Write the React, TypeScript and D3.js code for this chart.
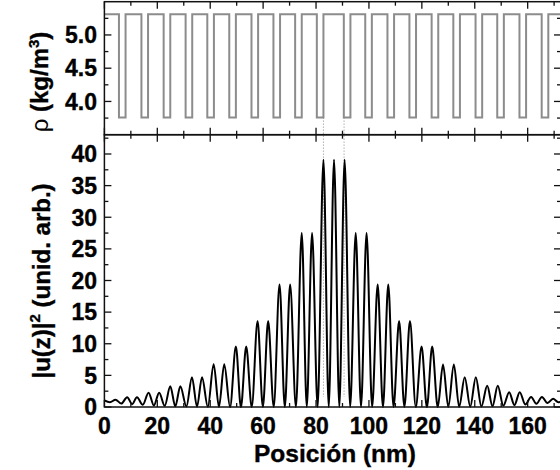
import React from 'react';
import * as d3 from 'd3';

// ---------- data ----------
const xMajorTicks = [0, 20, 40, 60, 80, 100, 120, 140, 160];
const xMinorTicks = [10, 30, 50, 70, 90, 110, 130, 150, 170];
const rhoMajorTicks = [4.0, 4.5, 5.0];
const rhoMinorTicks = [3.75, 4.25, 4.75, 5.25];
const uMajorTicks = [0, 5, 10, 15, 20, 25, 30, 35, 40];
const uMinorTicks = [2.5, 7.5, 12.5, 17.5, 22.5, 27.5, 32.5, 37.5, 42.5];

const rhoHigh = 5.31;
const rhoLow = 3.76;
// start positions (nm) of the low-density layers
const lowLayerStart = [5.5, 14.0, 22.4, 30.7, 38.9, 47.2, 55.6, 63.9, 72.1, 80.3,
  90.5, 98.6, 107.0, 115.3, 123.7, 131.9, 140.3, 148.5, 156.9, 165.3];
const lowLayerWidth = 2.5;
const cavityEdges = [82.8, 90.6];

// |u(z)|^2 maxima
const peakX = [0, 4.2, 8.6, 12.3, 16.7, 20.7, 24.9, 28.7, 33.1, 36.9, 41.3, 45.3, 49.7, 53.6,
  57.9, 61.9, 66.2, 70.2, 74.6, 78.5, 82.8, 86.8, 90.8, 95.0, 99.1, 103.3, 107.3, 111.4, 115.5,
  119.9, 123.9, 128.0, 132.1, 136.2, 140.4, 144.7, 148.7, 153.0, 157.0, 161.3, 165.4, 169.6, 172.6];
const peakY = [1.05, 1.15, 1.55, 1.55, 2.27, 2.27, 3.27, 3.27, 4.7, 4.7, 6.75, 6.75, 9.55, 9.55,
  13.6, 13.6, 19.35, 19.35, 27.5, 27.5, 39.1, 39.1, 39.1, 27.5, 27.5, 19.35, 19.35, 13.6, 13.6,
  9.55, 9.55, 6.7, 6.7, 4.7, 4.7, 3.35, 3.35, 2.35, 2.35, 1.6, 1.6, 1.3, 0.85];
// |u(z)|^2 minima
const minX = [2.1, 6.4, 10.5, 14.5, 18.7, 22.8, 26.8, 31.0, 35.0, 39.1, 43.3, 47.5, 51.6, 55.7,
  59.9, 64.0, 68.2, 72.4, 76.5, 80.6, 84.8, 88.8, 92.9, 97.0, 101.2, 105.3, 109.3, 113.4, 117.7,
  121.9, 126.0, 130.0, 134.1, 138.3, 142.5, 146.7, 150.8, 155.0, 159.1, 163.3, 167.5, 171.6];
const minY = [0.75, 0.55, 0.45, 0.35, 0.25, 0.18, 0.12, 0.08, 0.05, 0.03, 0.02, 0, 0, 0,
  0, 0, 0, 0, 0, 0, 0, 0, 0, 0, 0, 0, 0, 0, 0,
  0, 0, 0.02, 0.03, 0.05, 0.08, 0.12, 0.2, 0.3, 0.4, 0.5, 0.62, 0.75];

// ---------- layout ----------
const W = 560, H = 470;
const X0 = 104.4, X1 = 561;
const topY0 = 1.7, midY = 134.7, botY = 407;
const FONT = "'Liberation Sans', Arial, Helvetica, sans-serif";

export default function App() {
  const x = d3.scaleLinear().domain([0, 172.6]).range([X0, X1]);
  const yR = d3.scaleLinear().domain([3.5, 5.5]).range([midY, topY0]);
  const yU = d3.scaleLinear().domain([0, 43.05]).range([botY, midY]);

  // density step profile
  const rhoPts: [number, number][] = [[0, rhoHigh]];
  lowLayerStart.forEach((s) => {
    rhoPts.push([s, rhoHigh], [s, rhoLow], [s + lowLayerWidth, rhoLow], [s + lowLayerWidth, rhoHigh]);
  });
  rhoPts.push([172.6, rhoHigh]);
  const rhoLine = d3.line<[number, number]>().x((d) => x(d[0])).y((d) => yR(d[1]));

  const uPts: [number, number][] = [
    ...peakX.map((px, i) => [px, peakY[i]] as [number, number]),
    ...minX.map((mx, i) => [mx, minY[i]] as [number, number]),
  ].sort((a, b) => a[0] - b[0]);
  const uLine = d3.line<[number, number]>()
    .x((d) => x(d[0])).y((d) => yU(d[1])).curve(d3.curveMonotoneX);

  const axisColor = '#111';
  const tickW = 1.3;
  const maj = 7, min = 4;
  const tickFs = 23;
  const heavy = { stroke: '#000', strokeWidth: 0.35 };

  return (
    <svg width={W} height={H} style={{ position: 'absolute', left: 0, top: 0, background: '#fff' }}
      fontFamily={FONT}>
      <rect x={0} y={0} width={W} height={H} fill="#fff" />
      {/* dotted cavity lines */}
      {cavityEdges.map((c, i) => (
        <line key={'c' + i} x1={x(c)} x2={x(c)} y1={yR(rhoLow)} y2={yU(1.6)}
          stroke="#b0b0b0" strokeWidth={1} strokeDasharray="1.5,1.5" />
      ))}
      {/* density */}
      <path d={rhoLine(rhoPts) || ''} fill="none" stroke="#8c8c8c" strokeWidth={2} />
      {/* |u|^2 */}
      <path d={uLine(uPts) || ''} fill="none" stroke="#000" strokeWidth={2} />

      {/* frames */}
      <rect x={X0} y={topY0} width={X1 - X0} height={midY - topY0} fill="none" stroke={axisColor} strokeWidth={1.5} />
      <rect x={X0} y={midY} width={X1 - X0} height={botY - midY} fill="none" stroke={axisColor} strokeWidth={1.5} />

      {/* x ticks */}
      {xMajorTicks.concat(xMinorTicks).map((t, i) => {
        const L = xMajorTicks.includes(t) ? maj : min;
        const px = x(t);
        return (
          <g key={'xt' + i} stroke={axisColor} strokeWidth={tickW}>
            <line x1={px} x2={px} y1={topY0} y2={topY0 + L} />
            <line x1={px} x2={px} y1={midY - L} y2={midY + L} />
            <line x1={px} x2={px} y1={botY} y2={botY - L} />
          </g>
        );
      })}
      {/* rho ticks */}
      {rhoMajorTicks.concat(rhoMinorTicks).map((t, i) => {
        const L = rhoMajorTicks.includes(t) ? maj : min;
        const py = yR(t);
        return (
          <g key={'rt' + i} stroke={axisColor} strokeWidth={tickW}>
            <line x1={X0} x2={X0 + L} y1={py} y2={py} />
            <line x1={X1} x2={X1 - L} y1={py} y2={py} />
          </g>
        );
      })}
      {/* u ticks */}
      {uMajorTicks.concat(uMinorTicks).map((t, i) => {
        const L = uMajorTicks.includes(t) ? maj : min;
        const py = yU(t);
        return (
          <g key={'ut' + i} stroke={axisColor} strokeWidth={tickW}>
            <line x1={X0} x2={X0 + L} y1={py} y2={py} />
            <line x1={X1} x2={X1 - L} y1={py} y2={py} />
          </g>
        );
      })}

      {/* tick labels */}
      {rhoMajorTicks.map((t) => (
        <text key={'rl' + t} x={97} y={yR(t)} dy="0.36em" textAnchor="end" fontSize={tickFs}
          fontWeight="bold" fill="#000" {...heavy}>{t.toFixed(1)}</text>
      ))}
      {uMajorTicks.map((t) => (
        <text key={'ul' + t} x={97} y={yU(t)} dy="0.36em" textAnchor="end" fontSize={tickFs}
          fontWeight="bold" fill="#000" {...heavy}>{t}</text>
      ))}
      {xMajorTicks.map((t) => (
        <text key={'xl' + t} x={x(t)} y={434} textAnchor="middle" fontSize={tickFs}
          fontWeight="bold" fill="#000" {...heavy}>{t}</text>
      ))}

      {/* axis titles */}
      <text x={335} y={462} textAnchor="middle" fontSize={24.5} fontWeight="bold" fill="#000" {...heavy}>
        Posición (nm)
      </text>
      <text transform={`translate(48,82) rotate(-90)`} textAnchor="middle" fontSize={24} fontWeight="bold" fill="#000" {...heavy}>
        <tspan fontWeight="normal" strokeWidth={0}>ρ</tspan> (kg/m<tspan dy={-9} fontSize={15}>3</tspan><tspan dy={9}>)</tspan>
      </text>
      <text transform={`translate(50,281) rotate(-90)`} textAnchor="middle" fontSize={24} fontWeight="bold" fill="#000" {...heavy}>
        |u(z)|<tspan dy={-10} fontSize={15}>2</tspan><tspan dy={10}> (unid. arb.)</tspan>
      </text>
    </svg>
  );
}
